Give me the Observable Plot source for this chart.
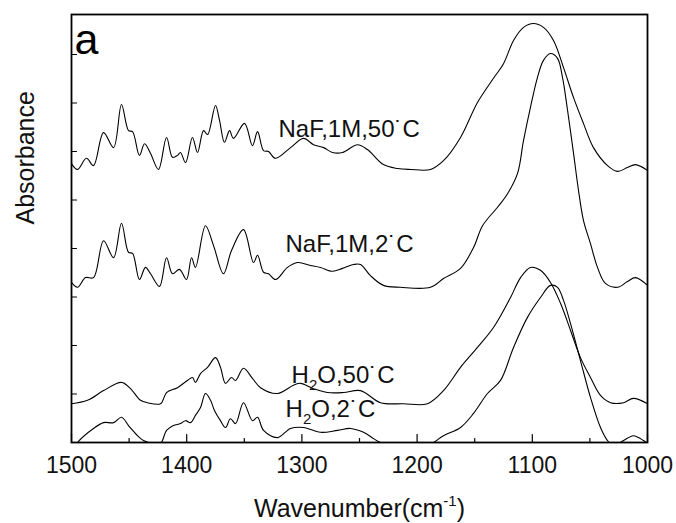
<!DOCTYPE html>
<html><head><meta charset="utf-8">
<script src="https://cdn.jsdelivr.net/npm/d3@7"></script>
<script src="https://cdn.jsdelivr.net/npm/@observablehq/plot@0.6"></script>
<style>html,body{margin:0;padding:0;background:#fff} svg{display:block}</style>
</head><body><div id="chart"></div>
<script>
// Wavenumber (cm-1) and absorbance (arbitrary, offset) for each spectrum
const wnNaF50 = [1500,1494.8,1487.0,1480.9,1472.2,1463.5,1456.6,1450.5,1447.0,1441.0,1436.6,1431.4,1424.5,1417.5,1412.3,1408.0,1405.4,1401.0,1395.0,1390.6,1385.4,1381.9,1375.0,1371.5,1367.2,1362.8,1359.4,1349.8,1342.9,1338.5,1333.3,1329.0,1322.9,1309.9,1298.6,1289.9,1281.2,1273.4,1264.8,1251.7,1243.1,1229.2,1217.0,1205.7,1188.4,1177.1,1162.3,1147.6,1133.7,1125.0,1116.3,1107.6,1099.0,1090.3,1081.6,1072.9,1064.2,1055.6,1046.9,1034.7,1026.0,1017.4,1010.4,1000];
const absNaF50 = [0.575,0.563,0.586,0.571,0.639,0.608,0.697,0.643,0.641,0.592,0.616,0.596,0.563,0.629,0.588,0.592,0.598,0.577,0.629,0.598,0.643,0.635,0.695,0.664,0.619,0.643,0.627,0.658,0.612,0.641,0.602,0.600,0.586,0.608,0.627,0.614,0.608,0.598,0.598,0.614,0.604,0.573,0.565,0.563,0.563,0.581,0.629,0.701,0.751,0.781,0.829,0.856,0.864,0.856,0.829,0.773,0.711,0.658,0.608,0.571,0.559,0.567,0.573,0.561];

const wnNaF2 = [1500,1494.8,1487.8,1480.9,1472.2,1463.5,1456.6,1450.5,1447.0,1441.0,1435.8,1431.4,1423.6,1417.5,1412.3,1406.3,1400.2,1395.8,1392.4,1383.7,1376.7,1368.1,1361.1,1350.7,1342.0,1338.5,1333.3,1329.0,1322.9,1312.5,1303.8,1292.5,1283.9,1273.4,1264.8,1255.2,1249.1,1240.5,1229.2,1214.4,1188.4,1177.1,1162.3,1151.0,1143.2,1130.2,1121.5,1112.8,1107.6,1101.6,1095.5,1090.3,1084.2,1078.1,1073.8,1069.4,1064.2,1059.9,1055.6,1049.5,1043.4,1036.5,1026.0,1017.4,1010.4,1000];
const absNaF2 = [0.330,0.320,0.340,0.340,0.416,0.381,0.452,0.392,0.390,0.336,0.361,0.348,0.322,0.381,0.348,0.357,0.336,0.381,0.361,0.447,0.406,0.348,0.396,0.439,0.371,0.386,0.351,0.348,0.336,0.361,0.371,0.365,0.361,0.353,0.359,0.367,0.367,0.344,0.324,0.320,0.320,0.338,0.359,0.402,0.447,0.485,0.513,0.555,0.623,0.691,0.753,0.788,0.802,0.792,0.753,0.685,0.596,0.520,0.458,0.410,0.361,0.328,0.320,0.332,0.340,0.324];

const wnH2O50 = [1500,1486.1,1472.2,1456.6,1448.8,1440.1,1434.0,1422.7,1417.5,1408.0,1399.3,1395.0,1392.4,1388.0,1381.9,1375.0,1370.7,1366.3,1361.1,1357.6,1350.7,1342.9,1335.9,1321.2,1307.3,1301.2,1289.9,1277.8,1263.9,1249.1,1231.8,1211.8,1191.0,1177.1,1162.3,1147.6,1133.7,1118.9,1110.2,1101.6,1092.9,1084.2,1075.5,1066.8,1058.2,1049.5,1040.8,1032.1,1020.8,1012.2,1000];
const absH2O50 = [0.080,0.087,0.107,0.124,0.111,0.087,0.082,0.080,0.103,0.113,0.128,0.134,0.124,0.142,0.155,0.175,0.155,0.122,0.134,0.128,0.153,0.132,0.113,0.101,0.118,0.122,0.111,0.103,0.103,0.107,0.082,0.080,0.080,0.107,0.155,0.196,0.237,0.299,0.340,0.361,0.355,0.330,0.287,0.231,0.175,0.134,0.097,0.082,0.082,0.091,0.080];

const wnH2O2 = [1500,1494.8,1480.9,1472.2,1463.5,1456.6,1450.5,1442.7,1437.5,1428.8,1422.7,1417.5,1411.5,1405.4,1401.0,1396.7,1392.4,1388.0,1383.7,1379.3,1375.9,1370.7,1366.3,1362.0,1357.6,1350.7,1342.9,1338.5,1333.3,1321.2,1309.9,1298.6,1283.9,1269.1,1257.8,1246.5,1237.8,1231.8,1220.5,1191.0,1177.1,1162.3,1151.0,1138.9,1127.6,1116.3,1104.2,1092.9,1084.2,1078.1,1072.9,1066.8,1058.2,1049.5,1040.8,1034.7,1029.5,1020.8,1012.2,1003.5,1000];
const absH2O2 = [-0.021,0.000,0.029,0.041,0.041,0.052,0.035,0.014,0.004,-0.002,-0.002,0.025,0.035,0.039,0.045,0.041,0.056,0.072,0.101,0.087,0.066,0.045,0.031,0.049,0.039,0.082,0.045,0.052,0.025,0.010,0.029,0.031,0.021,0.025,0.029,0.021,0.008,0.000,-0.006,-0.006,0.014,0.031,0.060,0.101,0.128,0.196,0.258,0.299,0.324,0.320,0.293,0.245,0.169,0.093,0.031,0.004,-0.006,0.004,0.014,0.004,-0.002];

const seriesNames = ["NaF,1M,50˙C", "NaF,1M,2˙C", "H_{2}O,50˙C", "H_{2}O,2˙C"];
const labelWn  = [1320.3, 1314.2, 1309.0, 1314.2];
const labelAbs = [0.629, 0.392, 0.122, 0.052];

const xMajorTicks = [1500, 1400, 1300, 1200, 1100, 1000];
const xMinorTicks = [1450, 1350, 1250, 1150, 1050];
const yTicks = [0.1, 0.2, 0.3, 0.4, 0.5, 0.6, 0.7, 0.8];
const xLabel = "Wavenumber(cm^{-1})";
const yLabel = "Absorbance";
const panelLetter = "a";

const seriesWn = [wnNaF50, wnNaF2, wnH2O50, wnH2O2];
const seriesAbs = [absNaF50, absNaF2, absH2O50, absH2O2];
const rows = [];
seriesNames.forEach((name, i) => seriesWn[i].forEach((w, j) => rows.push({series: name, wn: w, abs: seriesAbs[i][j]})));
const labels = seriesNames.map((name, i) => ({text: name, wn: labelWn[i], abs: labelAbs[i]}));

const tickShape = {draw(context, l) { context.moveTo(0, 0); context.lineTo(0, -l); }};

const plot = Plot.plot({
  width: 676, height: 523,
  marginLeft: 71, marginRight: 29, marginTop: 14, marginBottom: 81,
  style: {fontFamily: "'Liberation Sans', Arial, sans-serif", background: "#fff", color: "#000", overflow: "visible"},
  x: {domain: [1500, 1000], axis: null},
  y: {domain: [0, 0.8825], axis: null},
  marks: [
    Plot.line(rows, {x: "wn", y: "abs", z: "series", stroke: "#000", strokeWidth: 1.1, curve: "catmull-rom", clip: true}),
    Plot.frame({stroke: "#000", strokeWidth: 1.8}),
    Plot.vector(xMajorTicks, {x: d => d, frameAnchor: "bottom", length: 8, rotate: 0, anchor: "start", shape: tickShape, stroke: "#000", strokeWidth: 1.2}),
    Plot.vector(xMinorTicks, {x: d => d, frameAnchor: "bottom", length: 4, rotate: 0, anchor: "start", shape: tickShape, stroke: "#000", strokeWidth: 1.2}),
    Plot.vector(yTicks, {y: d => d, frameAnchor: "left", length: 5, rotate: 90, anchor: "start", shape: tickShape, stroke: "#000", strokeWidth: 1.2}),
    Plot.text(xMajorTicks, {x: d => d, frameAnchor: "bottom", text: d => String(d), dy: 14, lineAnchor: "top", fontSize: 23, fill: "#111"}),
    Plot.text([xLabel], {frameAnchor: "bottom", text: d => d, dy: 74, lineAnchor: "bottom", fontSize: 25, fill: "#111"}),
    Plot.text([yLabel], {frameAnchor: "left", text: d => d, rotate: -90, dx: -38, dy: -4, lineAnchor: "bottom", fontSize: 25, fill: "#111"}),
    Plot.text([panelLetter], {frameAnchor: "top-left", text: d => d, dx: 3, dy: 39, lineAnchor: "bottom", textAnchor: "start", fontSize: 43, fill: "#000"}),
    Plot.text(labels, {x: "wn", y: "abs", text: "text", textAnchor: "start", lineAnchor: "bottom", fontSize: 24, fill: "#111"})
  ]
});

// Render _{..} as subscript and ^{..} as superscript tspans
function richify(el) {
  const s = el.textContent;
  if (!/[_^]\{/.test(s)) return;
  while (el.firstChild) el.removeChild(el.firstChild);
  const re = /([_^])\{([^}]*)\}/g;
  let last = 0, m;
  const ns = "http://www.w3.org/2000/svg";
  const add = (txt, attrs) => {
    const t = document.createElementNS(ns, "tspan");
    for (const k in attrs) t.setAttribute(k, attrs[k]);
    t.textContent = txt;
    el.appendChild(t);
  };
  let pending = 0;
  while ((m = re.exec(s))) {
    if (m.index > last) { add(s.slice(last, m.index), pending ? {dy: pending} : {}); pending = 0; }
    const shift = m[1] === "_" ? 7 : -11;
    add(m[2], {dy: shift + pending, "font-size": 15});
    pending = -shift;
    last = re.lastIndex;
  }
  if (last < s.length) add(s.slice(last), pending ? {dy: pending} : {});
}
plot.querySelectorAll("text").forEach(t => {
  if (t.children.length === 0) richify(t);
  else t.querySelectorAll("tspan").forEach(richify);
});
document.getElementById("chart").appendChild(plot);
</script>
</body></html>
